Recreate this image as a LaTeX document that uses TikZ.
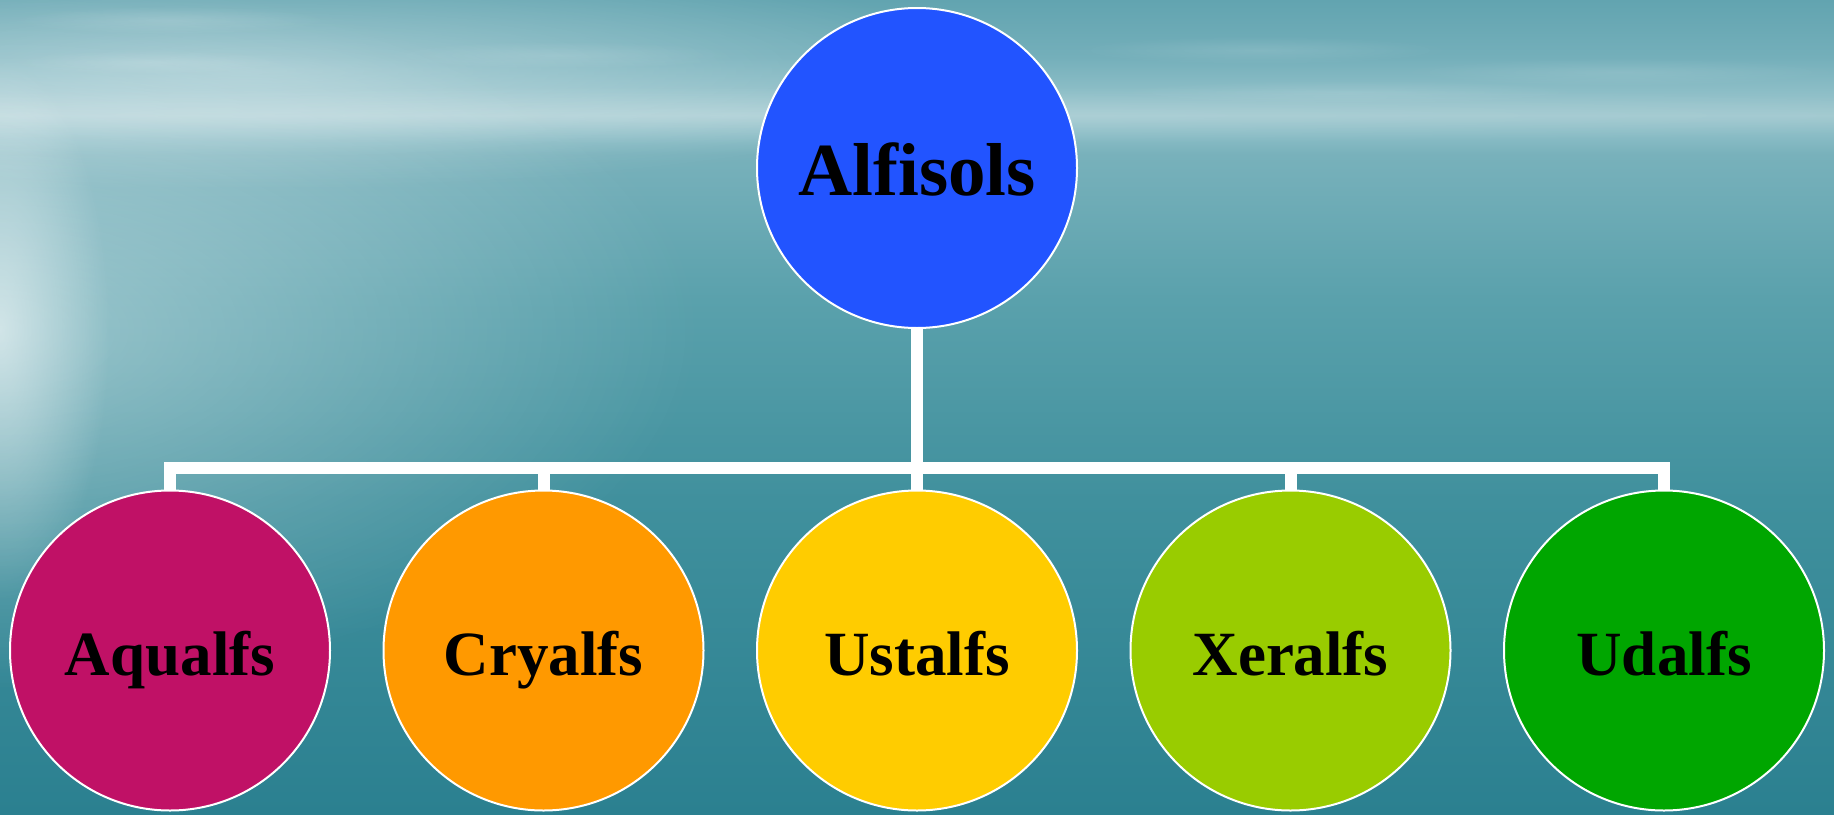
\documentclass[tikz,border=0pt]{standalone}
\usepackage{fontspec}
\setmainfont{Liberation Serif}
\usetikzlibrary{fadings}

% sea and sky tones
\definecolor{sky0}{HTML}{62A4B0}
\definecolor{sky1}{HTML}{74AFBA}
\definecolor{haze1}{HTML}{8BBDC6}
\definecolor{haze}{HTML}{A0C8CF}
\definecolor{sea2}{HTML}{78B1BB}
\definecolor{sea3}{HTML}{5AA1AC}
\definecolor{sea4}{HTML}{40909D}
\definecolor{sea5}{HTML}{2B8090}

% circle fills
\definecolor{rootblue}{HTML}{2254FF}
\definecolor{aquac}{HTML}{C01166}
\definecolor{cryc}{HTML}{FF9900}
\definecolor{ustc}{HTML}{FFCC00}
\definecolor{xerc}{HTML}{99CC00}
\definecolor{udc}{HTML}{00A600}

\pgfdeclareverticalshading{seasky}{100bp}{%
  color(0bp)=(sea5); color(25bp)=(sea5);
  color(44.3bp)=(sea4); color(56.6bp)=(sea3);
  color(65.5bp)=(sea2); color(66.8bp)=(haze1);
  color(67.9bp)=(haze); color(69.5bp)=(haze1);
  color(71.5bp)=(sky1); color(75bp)=(sky0); color(100bp)=(sky0)}

\tikzfading[name=softglow, inner color=transparent!0, outer color=transparent!100]

\begin{document}
\begin{tikzpicture}[x=1pt, y=-1pt,
  soil/.style={circle, draw=white, line width=2pt, minimum size=320pt,
    inner sep=0pt, text=black,
    font=\bfseries\fontsize{63}{63}\selectfont, text height=49pt, text depth=0pt},
  rootc/.style={soil, fill=rootblue,
    font=\bfseries\fontsize{75}{75}\selectfont, text height=54pt},
  conn/.style={draw=white, line width=12pt, line join=miter},
  glow/.style={fill=white, path fading=softglow}]

\useasboundingbox (0,0) rectangle (1834,814);

% backdrop: sky, horizon haze and sea
\shade[shading=seasky] (0,0) rectangle (1834,814);
\fill[glow, opacity=0.40] (0,330) ellipse [x radius=700pt, y radius=360pt];
\fill[glow, opacity=0.55] (0,330) ellipse [x radius=110pt, y radius=270pt];
\fill[glow, opacity=0.35] (250,70) ellipse [x radius=750pt, y radius=120pt];
\fill[glow, opacity=0.15] (800,115) ellipse [x radius=1400pt, y radius=30pt];
% faint cloud streaks
\fill[glow, opacity=0.14] (170,20) ellipse [x radius=160pt, y radius=14pt];
\fill[glow, opacity=0.14] (150,62) ellipse [x radius=140pt, y radius=12pt];
\fill[glow, opacity=0.12] (560,55) ellipse [x radius=180pt, y radius=14pt];
\fill[glow, opacity=0.12] (1260,50) ellipse [x radius=190pt, y radius=14pt];
\fill[glow, opacity=0.10] (1620,72) ellipse [x radius=220pt, y radius=14pt];
\fill[glow, opacity=0.10] (1350,92) ellipse [x radius=240pt, y radius=12pt];

% taxonomy circles
\node[rootc] (root) at (917,168) {Alfisols};
\node[soil, fill=aquac] (aq) at (170,650.5)   {Aqualfs};
\node[soil, fill=cryc]  (cr) at (543.5,650.5) {Cryalfs};
\node[soil, fill=ustc]  (us) at (917,650.5)   {Ustalfs};
\node[soil, fill=xerc]  (xe) at (1290.5,650.5){Xeralfs};
\node[soil, fill=udc]   (ud) at (1664,650.5)  {Udalfs};

% connectors
\coordinate (bar) at (917,468);
\draw[conn] (aq.north) -- (aq.north |- bar) -- (ud.north |- bar) -- (ud.north);
\draw[conn] (root.south) -- (us.north);
\draw[conn] (cr.north) -- (cr.north |- bar);
\draw[conn] (xe.north) -- (xe.north |- bar);
\end{tikzpicture}
\end{document}
